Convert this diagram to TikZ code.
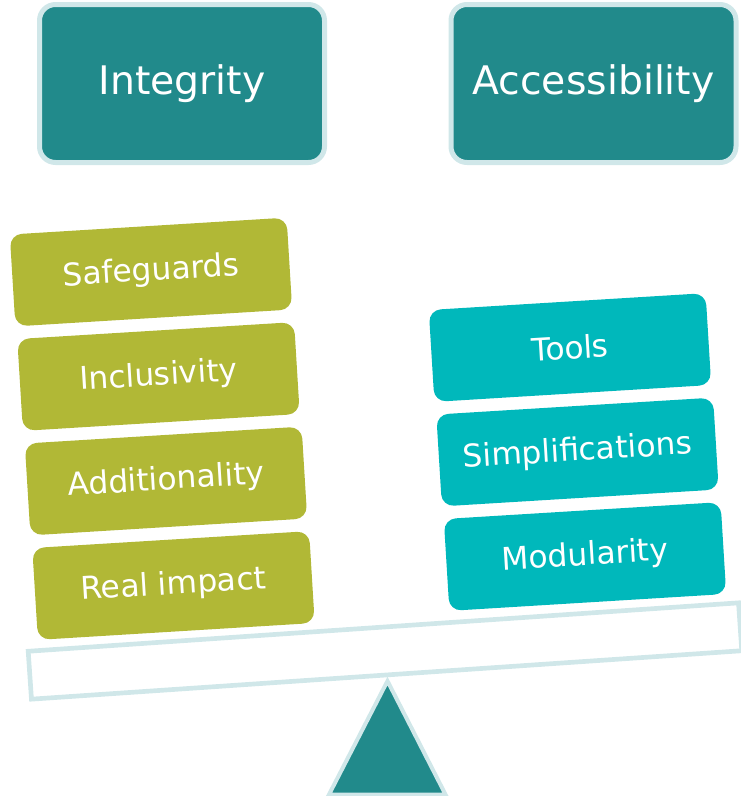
\documentclass[tikz,border=0pt]{standalone}
\usepackage{fontspec}
\setmainfont{DejaVu Sans}
\usepackage{tikz}

\definecolor{verdeazul}{HTML}{218A8B}
\definecolor{bordeclaro}{HTML}{D0E7E9}
\definecolor{oliva}{HTML}{B1B836}
\definecolor{cian}{HTML}{00B8BB}

\begin{document}
\begin{tikzpicture}[x=0.75pt, y=-0.75pt,
    pilar/.style={draw=bordeclaro, line width=3.75pt, fill=verdeazul,
        rounded corners=12pt, minimum width=213.75pt, minimum height=118.5pt,
        inner sep=0pt, text=white, font=\fontsize{29.5}{36}\selectfont},
    izq/.style={fill=oliva, rounded corners=9pt, minimum width=208pt,
        minimum height=69pt, inner sep=0pt, text=white,
        font=\fontsize{23.5}{28}\selectfont, rotate=3.5},
    der/.style={izq, fill=cian}]
    \useasboundingbox (0,0) rectangle (741,796);
    \clip (0,0) rectangle (741,796);

    % Los dos pilares de arriba
    \node[pilar] (integ) at (182,83.5) {Integrity};
    \node[pilar] (access) at (593.5,83.5) {Accessibility};

    % Platillo izquierdo
    \node[izq] (safeg) at (151,272) {Safeguards};
    \node[izq] (incl) at (158.5,376.5) {Inclusivity};
    \node[izq] (addit) at (166,481) {Additionality};
    \node[izq] (impact) at (173.5,585.5) {Real impact};

    % Platillo derecho
    \node[der] (tools) at (570,347.5) {Tools};
    \node[der] (simpl) at (577.5,452) {Simplifications};
    \node[der] (modul) at (585,556.5) {Modularity};

    % Barra de la balanza
    \node[draw=bordeclaro, line width=3.5pt, minimum width=534pt,
        minimum height=36pt, inner sep=0pt, rotate=3.9] (beam) at (385,651) {};

    % Punto de apoyo
    \draw[draw=bordeclaro, line width=3pt, fill=verdeazul]
        (387.5,681) -- (445.5,794.5) -- (329,794.5) -- cycle;
\end{tikzpicture}
\end{document}
